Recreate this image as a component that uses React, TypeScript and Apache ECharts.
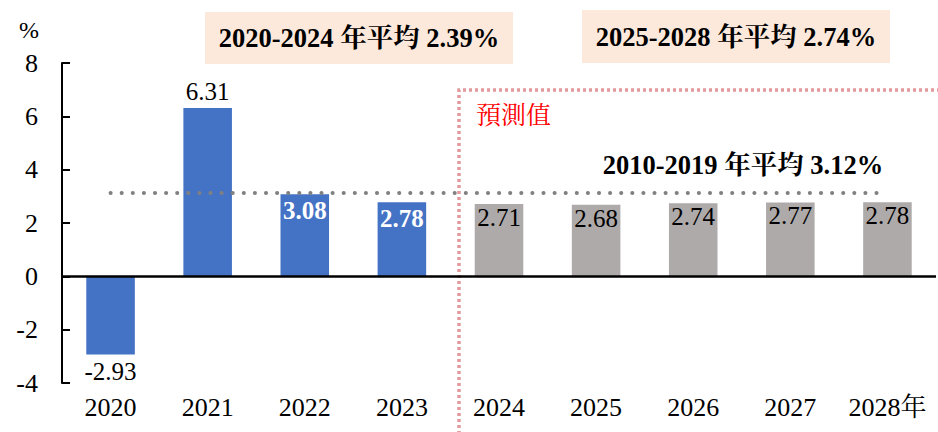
import React, { useEffect, useRef } from "react";
import * as echarts from "echarts";

const years = ["2020", "2021", "2022", "2023", "2024", "2025", "2026", "2027", "2028"];
const growth = [-2.93, 6.31, 3.08, 2.78, 2.71, 2.68, 2.74, 2.77, 2.78];
const forecastStart = 4; // index of first forecast year
const avg2010_2019 = 3.12;
const avgBox1 = "2020-2024 年平均 2.39%";
const avgBox2 = "2025-2028 年平均 2.74%";
const avgLineText = "2010-2019 年平均 3.12%";
const forecastText = "預測值";
const yTicks = { min: -4, max: 8, interval: 2 };

const SERIF = "'Liberation Serif', 'Noto Serif CJK TC', 'Noto Sans CJK TC', serif";
const BLUE = "#4472c4";
const GRAY = "#aeaaaa";

export default function App() {
  const ref = useRef<HTMLDivElement>(null);
  useEffect(() => {
    document.body.style.margin = "0";
    if (!ref.current) return;
    const chart = echarts.init(ref.current, undefined, { renderer: "svg" });

    const data = growth.map((v, i) => {
      const forecast = i >= forecastStart;
      let label: any;
      if (v < 0) {
        label = { show: true, position: "bottom", distance: 5, color: "#000", fontSize: 25, fontFamily: SERIF };
      } else if (v > 5) {
        label = { show: true, position: "top", distance: 4, color: "#000", fontSize: 25, fontFamily: SERIF };
      } else if (!forecast) {
        label = { show: true, position: "insideTop", distance: 4, color: "#fff", fontWeight: "bold", fontSize: 25, fontFamily: SERIF };
      } else {
        label = { show: true, position: "insideTop", distance: 1, color: "#000", fontSize: 25, fontFamily: SERIF };
      }
      return {
        value: v,
        itemStyle: { color: forecast ? GRAY : BLUE },
        label,
      };
    });

    chart.setOption({
      animation: false,
      grid: { left: 62, right: 2, top: 63, bottom: 49, containLabel: false },
      xAxis: {
        type: "category",
        data: years,
        axisLine: { show: false, onZero: false },
        axisTick: { show: false },
        axisLabel: {
          interval: 0,
          hideOverlap: false,
          margin: 11,
          color: "#000",
          fontSize: 26,
          fontFamily: SERIF,
          formatter: (val: string, idx: number) => (idx === years.length - 1 ? val + "年" : val),
        },
      },
      yAxis: {
        type: "value",
        min: yTicks.min,
        max: yTicks.max,
        interval: yTicks.interval,
        axisLine: { show: true, lineStyle: { color: "#000", width: 2 } },
        axisTick: { show: true, inside: true, length: 8, lineStyle: { color: "#000", width: 2 } },
        splitLine: { show: false },
        axisLabel: { margin: 24, color: "#000", fontSize: 26, fontFamily: SERIF },
      },
      series: [
        {
          type: "bar",
          data,
          barWidth: "50%",
          markLine: {
            silent: true,
            symbol: "none",
            label: { show: false },
            data: [
              [
                { coord: [years[0], avg2010_2019], lineStyle: { color: "#808080", width: 4, type: [0.1, 11], cap: "round" } },
                { coord: [years[years.length - 1], avg2010_2019] },
              ],
              { yAxis: 0, lineStyle: { color: "#000", width: 2.5, type: "solid" } },
            ],
          },
        },
      ],
      graphic: [
        {
          type: "text",
          left: 19,
          top: 18,
          style: { text: "%", fontSize: 24, fontFamily: SERIF, fill: "#000" },
        },
        {
          type: "polyline",
          shape: { points: [[459, 440], [459, 90], [940, 90]] },
          style: { stroke: "#e29a9e", lineWidth: 3.5, fill: "none", lineDash: [3, 3] },
          silent: true,
        },
        {
          type: "text",
          x: 476,
          y: 115,
          style: { text: forecastText, fontSize: 25, fontFamily: SERIF, fill: "#ff0000", verticalAlign: "middle" },
        },
        {
          type: "text",
          x: 743,
          y: 165,
          style: { text: avgLineText, fontSize: 26.5, fontWeight: "bold", fontFamily: SERIF, fill: "#000", align: "center", verticalAlign: "middle" },
        },
        {
          type: "rect",
          shape: { x: 205, y: 12, width: 308, height: 52 },
          style: { fill: "#fde9db" },
        },
        {
          type: "text",
          x: 359,
          y: 38,
          style: { text: avgBox1, fontSize: 26.5, fontWeight: "bold", fontFamily: SERIF, fill: "#000", align: "center", verticalAlign: "middle" },
        },
        {
          type: "rect",
          shape: { x: 582, y: 10, width: 308, height: 53 },
          style: { fill: "#fde9db" },
        },
        {
          type: "text",
          x: 736,
          y: 37,
          style: { text: avgBox2, fontSize: 26.5, fontWeight: "bold", fontFamily: SERIF, fill: "#000", align: "center", verticalAlign: "middle" },
        },
      ],
    });
    return () => chart.dispose();
  }, []);
  return <div ref={ref} style={{ width: 938, height: 432 }} />;
}
